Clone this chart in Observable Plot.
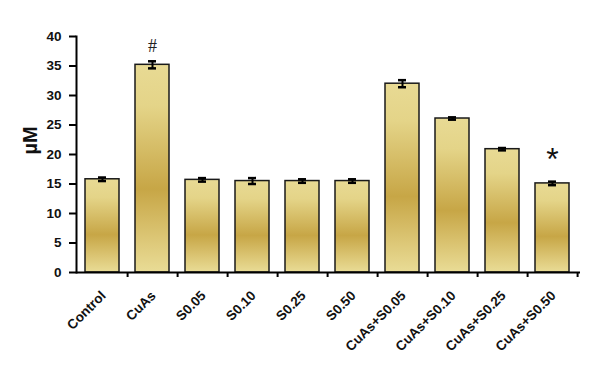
<!DOCTYPE html>
<html><head><meta charset="utf-8">
<script src="https://cdn.jsdelivr.net/npm/d3@7"></script>
<script src="https://cdn.jsdelivr.net/npm/@observablehq/plot@0.6"></script>
<style>body{margin:0;background:#fff}svg{font-family:"Liberation Sans",Arial,sans-serif}</style>
</head><body><div id="chart"></div>
<script>
const categories = ["Control","CuAs","S0.05","S0.10","S0.25","S0.50","CuAs+S0.05","CuAs+S0.10","CuAs+S0.25","CuAs+S0.50"];
const values = [15.8, 35.2, 15.7, 15.5, 15.5, 15.5, 32.0, 26.1, 20.9, 15.1];
const errors = [0.3, 0.6, 0.3, 0.5, 0.3, 0.3, 0.6, 0.2, 0.2, 0.3];
const yTicks = [0,5,10,15,20,25,30,35,40];
const annotCats = ["CuAs","CuAs+S0.50"];
const annotText = ["#","*"];

const data = categories.map((c,i)=>({cat:c, v:values[i], e:errors[i]}));
const annots = annotCats.map((c,i)=>({cat:c, t:annotText[i], v:values[categories.indexOf(c)]}));

const W = 597, H = 371, mL = 76, mR = 19;
const step = (W - mL - mR) / categories.length;

const gradient = () => {
  const svgNS = "http://www.w3.org/2000/svg";
  const g = document.createElementNS(svgNS, "g");
  g.innerHTML = `<defs><linearGradient id="gold" x1="0" y1="0" x2="0" y2="1">
    <stop offset="0" stop-color="#e8da94"/>
    <stop offset="0.2" stop-color="#e4d488"/>
    <stop offset="0.6" stop-color="#c7a646"/>
    <stop offset="0.85" stop-color="#ddc878"/>
    <stop offset="1" stop-color="#e9dc96"/>
  </linearGradient></defs>`;
  return g;
};

const chart = Plot.plot({
  width: W, height: H,
  marginLeft: mL, marginRight: mR, marginTop: 36, marginBottom: 99,
  x: {domain: categories, paddingInner: 0.32, paddingOuter: 0.16, label: null},
  y: {domain: [0, 40], label: null},
  marks: [
    gradient,
    Plot.barY(data, {x: "cat", y: "v", fill: "url(#gold)", stroke: "#1a1a1a", strokeWidth: 1.5}),
    Plot.ruleX(data, {x: "cat", y1: d => d.v - d.e, y2: d => d.v + d.e, stroke: "black", strokeWidth: 2}),
    Plot.tickY(data, {x: "cat", y: d => d.v + d.e, stroke: "black", strokeWidth: 2.5, inset: 21}),
    Plot.tickY(data, {x: "cat", y: d => d.v - d.e, stroke: "black", strokeWidth: 2.5, inset: 21}),
    Plot.text(annots.slice(0,1), {x: "cat", y: "v", text: "t", dy: -19, fontSize: 18, fill: "#222", fontFamily: "Liberation Serif, serif"}),
    Plot.text(annots.slice(1), {x: "cat", y: "v", text: "t", dy: -24, fontSize: 32, fill: "#111", fontFamily: "Liberation Sans, sans-serif"}),
    Plot.axisY({ticks: yTicks, tickSize: 7, tickPadding: 8, fontSize: 13.5, fontWeight: "bold", strokeWidth: 2, fill: "#111"}),
    Plot.axisX({tickSize: 5, dx: step/2, text: null, strokeWidth: 2}),
    Plot.axisX({tickSize: 0, tickRotate: -45, tickPadding: 21, fontSize: 13.5, fontWeight: "bold", fill: "#111", dx: 1}),
    Plot.ruleY([0], {stroke: "black", strokeWidth: 2, insetRight: -2}),
    Plot.frame({anchor: "left", stroke: "black", strokeWidth: 2}),
    Plot.text(["µM"], {frameAnchor: "left", dx: -46, rotate: -90, fontSize: 20, fontWeight: "bold", fill: "#111"})
  ]
});
document.getElementById("chart").append(chart);
</script></body></html>
